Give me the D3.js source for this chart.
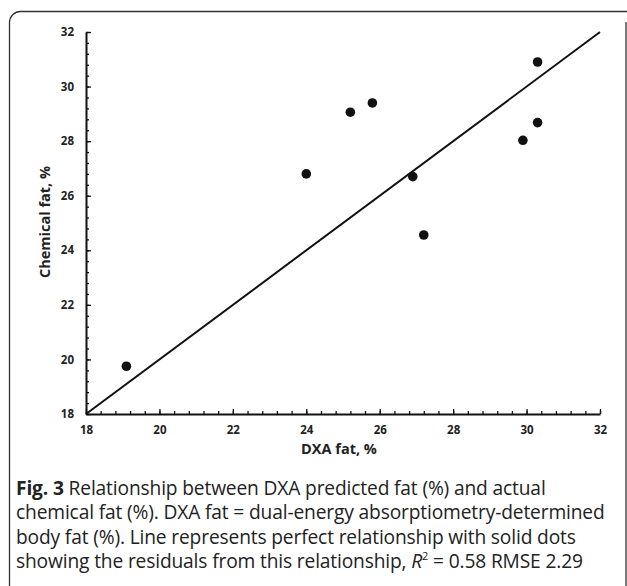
<!DOCTYPE html>
<html>
<head>
<meta charset="utf-8">
<script src="https://cdn.jsdelivr.net/npm/d3@7"></script>
<style>
  body { margin: 0; background: #fff; }
  svg { display: block; }
  .tick text { font-family: "Open Sans", sans-serif; font-weight: bold; font-size: 11.5px; fill: #222; }
  .axisTitle { font-family: "Open Sans", sans-serif; font-weight: bold; font-size: 14.5px; fill: #222; }
  .caption { font-family: "Open Sans", sans-serif; font-size: 19.2px; fill: #222; letter-spacing: -0.15px; }
</style>
</head>
<body>
<div id="chart"></div>
<script>
// measured values (DXA fat vs chemical fat)
var dxaFat = [19.1, 24.0, 25.2, 25.8, 26.9, 27.2, 29.9, 30.3, 30.3];
var chemFat = [19.75, 26.8, 29.06, 29.4, 26.7, 24.56, 28.03, 28.68, 30.9];
var majorTicks = [18, 20, 22, 24, 26, 28, 30, 32];
var captionLines = [
  ["Fig. 3", " Relationship between DXA predicted fat (%) and actual"],
  ["", "chemical fat (%). DXA fat = dual-energy absorptiometry-determined"],
  ["", "body fat (%). Line represents perfect relationship with solid dots"],
  ["", "showing the residuals from this relationship, "]
];

var svgWidth = 627;
var svgHeight = 586;

var margin = { top: 32, right: 27, bottom: 172, left: 86 };
var width = svgWidth - margin.left - margin.right;
var height = svgHeight - margin.top - margin.bottom;

var svg = d3.select("#chart")
  .append("svg")
  .attr("width", svgWidth)
  .attr("height", svgHeight);

// rounded frame (cropped at right/bottom)
svg.append("rect")
  .attr("x", 9.5)
  .attr("y", 11.5)
  .attr("width", 640)
  .attr("height", 620)
  .attr("rx", 11)
  .attr("fill", "none")
  .attr("stroke", "#333")
  .attr("stroke-width", 1.3);
svg.append("line")
  .attr("x1", 626).attr("x2", 626)
  .attr("y1", 22).attr("y2", 586)
  .attr("stroke", "#333")
  .attr("stroke-width", 1.3);

var chartGroup = svg.append("g")
  .attr("transform", `translate(${margin.left}, ${margin.top})`);

var x = d3.scaleLinear().domain([18, 32]).range([0, width]);
var y = d3.scaleLinear().domain([18, 32]).range([height, 0]);

var minorTicks = d3.range(18, 32.001, 0.4).map(d => +d.toFixed(1));

// minor ticks
chartGroup.append("g")
  .attr("transform", `translate(0, ${height})`)
  .call(d3.axisBottom(x).tickValues(minorTicks).tickSize(-3).tickFormat(""))
  .call(g => g.select(".domain").remove());
chartGroup.append("g")
  .call(d3.axisLeft(y).tickValues(minorTicks).tickSize(-3).tickFormat(""))
  .call(g => g.select(".domain").remove());

// major axes
var xAxis = chartGroup.append("g")
  .attr("transform", `translate(0, ${height})`)
  .call(d3.axisBottom(x).tickValues(majorTicks).tickSizeInner(-5).tickSizeOuter(0).tickPadding(12));
var yAxis = chartGroup.append("g")
  .call(d3.axisLeft(y).tickValues(majorTicks).tickSizeInner(-5).tickSizeOuter(0).tickPadding(12));

chartGroup.selectAll(".domain").attr("stroke", "#111").attr("stroke-width", 2);
chartGroup.selectAll(".tick line").attr("stroke", "#111").attr("stroke-width", 1.3);

// line of perfect agreement
chartGroup.append("line")
  .attr("x1", x(18)).attr("y1", y(18))
  .attr("x2", x(32)).attr("y2", y(32))
  .attr("stroke", "#111")
  .attr("stroke-width", 2);

// dots
chartGroup.selectAll("circle")
  .data(dxaFat)
  .enter()
  .append("circle")
  .attr("cx", d => x(d))
  .attr("cy", (d, i) => y(chemFat[i]))
  .attr("r", 4.8)
  .attr("fill", "#111");

// axis titles
chartGroup.append("text")
  .attr("class", "axisTitle")
  .attr("x", width / 2 - 4)
  .attr("y", height + 40)
  .attr("text-anchor", "middle")
  .text("DXA fat, %");

chartGroup.append("text")
  .attr("class", "axisTitle")
  .attr("transform", "rotate(-90)")
  .attr("x", -(222 - margin.top))
  .attr("y", -36)
  .attr("text-anchor", "middle")
  .text("Chemical fat, %");

// caption
var cap = svg.append("text").attr("class", "caption");
captionLines.forEach(function(line, i) {
  var t = cap.append("tspan").attr("x", 16).attr("y", 495 + i * 24.3);
  if (line[0]) t.append("tspan").attr("font-weight", "bold").text(line[0]);
  t.append("tspan").text(line[1]);
  if (i === captionLines.length - 1) {
    t.append("tspan").attr("font-style", "italic").text("R");
    t.append("tspan").attr("font-size", "11px").attr("dy", -8).text("2");
    t.append("tspan").attr("dy", 8).text(" = 0.58 RMSE 2.29");
  }
});
</script>
</body>
</html>
